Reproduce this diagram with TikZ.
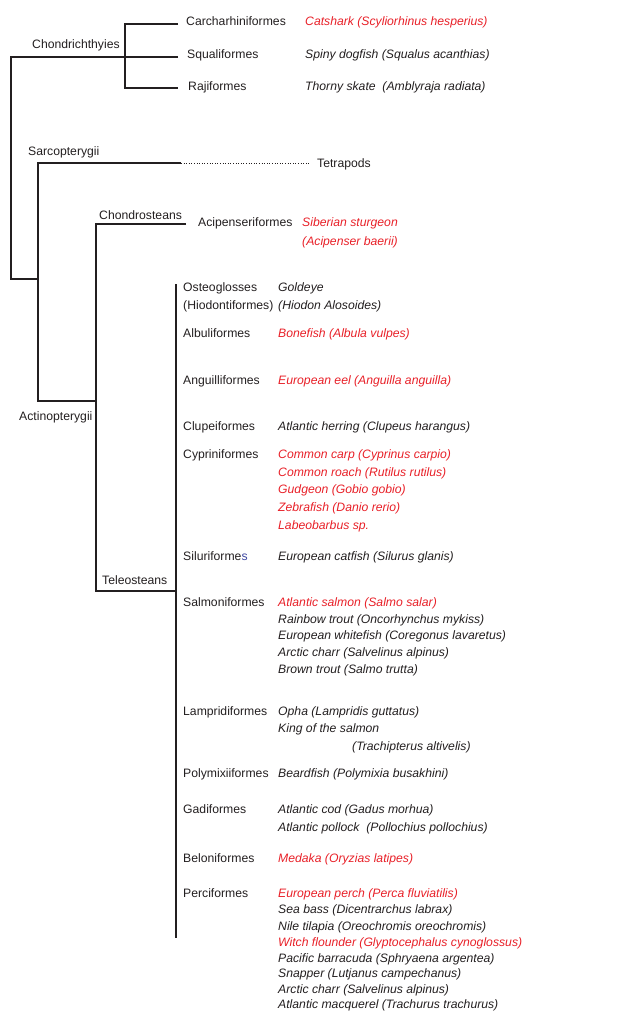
\documentclass[tikz,border=0pt]{standalone}
\usepackage{fontspec}
\setmainfont{Liberation Sans}
\usepackage{tikz}
\usetikzlibrary{calc}
\definecolor{fishred}{RGB}{232,32,40}
\definecolor{ink}{RGB}{35,31,32}
\definecolor{sblue}{RGB}{60,70,160}
\tikzset{
  branch/.style={line width=1.2pt, draw=ink},
  taxon/.style={anchor=mid west, inner sep=0pt, yshift=-2pt, text=ink, font=\fontsize{12.2}{14}\selectfont},
  order/.style={taxon},
  species/.style={taxon, font=\fontsize{12.2}{14}\selectfont\itshape},
}

\begin{document}
\begin{tikzpicture}[x=1pt,y=-1pt]
\useasboundingbox (0,0) rectangle (630,1012);

% clade names
\node[taxon] (chondri) at (32,44) {Chondrichthyies};
\node[taxon] (sarco) at (28,151) {Sarcopterygii};
\node[taxon] (actino) at (19,416) {Actinopterygii};
\node[taxon] (chondro) at (99,215) {Chondrosteans};
\node[taxon] (teleo) at (102,580) {Teleosteans};

% cartilaginous fish
\node[order] (carch) at (186,21) {Carcharhiniformes};
\node[order] (squal) at (187,54) {Squaliformes};
\node[order] (raji) at (188,86) {Rajiformes};
\node[species, text=fishred] (catshark) at (305,21) {Catshark (Scyliorhinus hesperius)};
\node[species] (dogfish) at (305,54) {Spiny dogfish (Squalus acanthias)};
\node[species] (skate) at (305,86) {Thorny skate\ \ (Amblyraja radiata)};
\node[taxon] (tetra) at (317,163) {Tetrapods};
\node[order] (acip) at (198,222) {Acipenseriformes};
\node[species, text=fishred] (sturgeon) at (302,222) {Siberian sturgeon};
\node[species, text=fishred] (baerii) at (302,241) {(Acipenser baerii)};

% teleost orders
\foreach \y/\t in {287/Osteoglosses, 305/(Hiodontiformes), 333/Albuliformes,
  380/Anguilliformes, 426/Clupeiformes, 454/Cypriniformes,
  556/{Siluriforme{\color{sblue}s}}, 602/Salmoniformes, 711/Lampridiformes,
  773/Polymixiiformes, 809/Gadiformes, 858/Beloniformes, 893/Perciformes}
  \node[order] (ord\y) at (183,\y) {\t};

% teleost species
\foreach \y/\c/\t in {287/ink/Goldeye, 305/ink/{(Hiodon Alosoides)},
  333/fishred/{Bonefish (Albula vulpes)},
  380/fishred/{European eel (Anguilla anguilla)},
  426/ink/{Atlantic herring (Clupeus harangus)},
  454/fishred/{Common carp (Cyprinus carpio)},
  472/fishred/{Common roach (Rutilus rutilus)},
  489/fishred/{Gudgeon (Gobio gobio)},
  507/fishred/{Zebrafish (Danio rerio)},
  525/fishred/{Labeobarbus sp.},
  556/ink/{European catfish (Silurus glanis)},
  602/fishred/{Atlantic salmon (Salmo salar)},
  619/ink/{Rainbow trout (Oncorhynchus mykiss)},
  635/ink/{European whitefish (Coregonus lavaretus)},
  652/ink/{Arctic charr (Salvelinus alpinus)},
  669/ink/{Brown trout (Salmo trutta)},
  711/ink/{Opha (Lampridis guttatus)},
  728/ink/{King of the salmon},
  773/ink/{Beardfish (Polymixia busakhini)},
  809/ink/{Atlantic cod (Gadus morhua)},
  827/ink/{Atlantic pollock\ \ (Pollochius pollochius)},
  858/fishred/{Medaka (Oryzias latipes)},
  893/fishred/{European perch (Perca fluviatilis)},
  909/ink/{Sea bass (Dicentrarchus labrax)},
  926/ink/{Nile tilapia (Oreochromis oreochromis)},
  942/fishred/{Witch flounder (Glyptocephalus cynoglossus)},
  958/ink/{Pacific barracuda (Sphryaena argentea)},
  973/ink/{Snapper (Lutjanus campechanus)},
  989/ink/{Arctic charr (Salvelinus alpinus)},
  1004/ink/{Atlantic macquerel (Trachurus trachurus)}}
  \node[species, text=\c] (sp\y) at (278,\y) {\t};
\node[species] (trachi) at (352,746) {(Trachipterus altivelis)};

% tree
\coordinate (root) at (11,57);
\coordinate (chJ) at (125,57);
\coordinate (carchE) at (178,24);
\coordinate (squalE) at (178,57);
\coordinate (rajiE) at (178,88);
\coordinate (ostJ) at (38,279);
\coordinate (sarcoE) at (181,163);
\coordinate (tetraE) at (310,163);
\coordinate (actJ) at (96,401);
\coordinate (acipE) at (186,224);
\coordinate (teleJ) at (176,591);
\coordinate (teleT) at (176,284);
\coordinate (teleB) at (176,938);

\draw[branch] (squalE) -- (root) |- (ostJ);
\draw[branch] (carchE) -| (chJ) |- (rajiE);
\draw[branch] (sarcoE) -| (ostJ) |- (actJ);
\draw[branch, line width=1pt, dash pattern=on 1pt off 1.6pt] (sarcoE) -- (tetraE);
\draw[branch] (acipE) -| (actJ) |- (teleJ);
\draw[branch] (teleT) -- (teleB);
\end{tikzpicture}
\end{document}
